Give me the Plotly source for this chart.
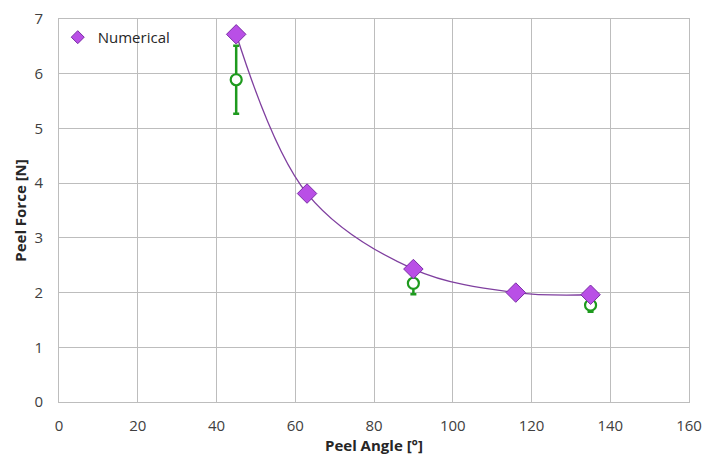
import plotly.graph_objects as go

# Data
num_angle = [45, 63, 90, 116, 135]
num_force = [6.72, 3.81, 2.43, 2.00, 1.96]

exp_angle = [45, 90, 135]
exp_force = [5.89, 2.17, 1.77]
exp_err = [0.62, 0.20, 0.12]

x_ticks = [0, 20, 40, 60, 80, 100, 120, 140, 160]
y_ticks = [0, 1, 2, 3, 4, 5, 6, 7]

FONT = "Open Sans"
PURPLE = "#b94fe6"
PURPLE_EDGE = "#7a2ea6"
LINE = "#7f3f9f"
GREEN = "#1e9a1e"

fig = go.Figure()

# smooth curve through numerical points
fig.add_trace(go.Scatter(
    x=num_angle, y=num_force, mode="lines",
    line=dict(color=LINE, width=1.3, shape="spline", smoothing=1.0),
    showlegend=False, hoverinfo="skip"))

# experimental with error bars
fig.add_trace(go.Scatter(
    x=exp_angle, y=exp_force, mode="markers",
    marker=dict(symbol="circle", size=11, color="white",
                line=dict(color=GREEN, width=2.2)),
    error_y=dict(type="data", array=exp_err, visible=True,
                 color=GREEN, thickness=2.5, width=3),
    showlegend=False, name="Experimental"))

# numerical markers
fig.add_trace(go.Scatter(
    x=num_angle, y=num_force, mode="markers", name="Numerical",
    marker=dict(symbol="diamond", size=15, color=PURPLE,
                line=dict(color=PURPLE_EDGE, width=1)),
    showlegend=False))

# legend entry (smaller symbol as in reference)
fig.add_trace(go.Scatter(
    x=[None], y=[None], mode="markers", name="Numerical",
    marker=dict(symbol="diamond", size=10, color=PURPLE,
                line=dict(color=PURPLE_EDGE, width=1))))

fig.update_layout(
    width=703, height=459,
    margin=dict(l=59, r=14, t=19, b=57, autoexpand=False),
    paper_bgcolor="white", plot_bgcolor="white",
    font=dict(family=FONT, color="#404040", size=15),
    showlegend=True,
    legend=dict(x=-0.002, y=0.995, xanchor="left", yanchor="top",
                bgcolor="rgba(0,0,0,0)", font=dict(size=15, color="#262626"),
                itemwidth=30, tracegroupgap=0),
    xaxis=dict(range=[0, 160], tickvals=x_ticks,
               ticktext=[str(v) for v in x_ticks], automargin=False,
               ticklabeloverflow="allow",
               showgrid=True, gridcolor="#bdbdbd", gridwidth=1,
               showline=True, linecolor="#bdbdbd", mirror=True,
               zeroline=False, ticks="", ticklabelstandoff=10,
               title=dict(text="<b>Peel Angle [°]</b>", standoff=4,
                          font=dict(size=15, color="#262626"))),
    yaxis=dict(range=[0, 7], tickvals=y_ticks,
               ticktext=[str(v) for v in y_ticks], automargin=False,
               ticklabeloverflow="allow",
               showgrid=True, gridcolor="#bdbdbd", gridwidth=1,
               showline=True, linecolor="#bdbdbd", mirror=True,
               zeroline=False, ticks="", ticklabelstandoff=12,
               title=dict(text="<b>Peel Force [N]</b>", standoff=4,
                          font=dict(size=15, color="#262626"))),
)

fig.write_html("out.html")
